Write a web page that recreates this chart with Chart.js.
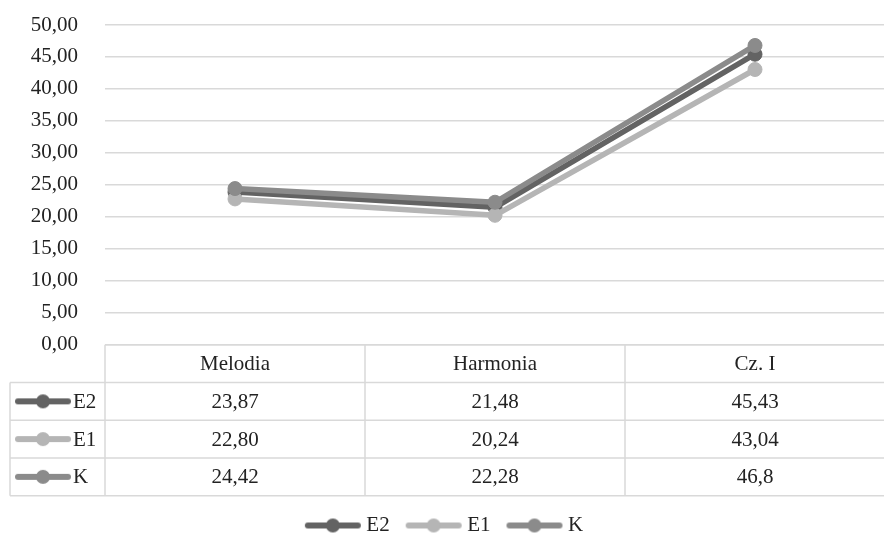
<!DOCTYPE html>
<html>
<head>
<meta charset="utf-8">
<script src="https://cdn.jsdelivr.net/npm/chart.js@4.4.1/dist/chart.umd.min.js"></script>
<style>
  html, body { margin: 0; padding: 0; overflow: hidden; background: #ffffff; }
  #wrap { position: relative; width: 893px; height: 538px; }
</style>
</head>
<body>
<div id="wrap"><canvas id="chart"></canvas></div>
<script>
// Categories, series and tick range
const categories = ['Melodia', 'Harmonia', 'Cz. I'];
const seriesNames = ['E2', 'E1', 'K'];
const e2Labels = ['23,87', '21,48', '45,43'];
const e1Labels = ['22,80', '20,24', '43,04'];
const kLabels  = ['24,42', '22,28', '46,8'];
const yMin = 0;
const yMax = 50;
const yStep = 5;

// Values plotted are parsed from the same strings shown in the data table
const toNumber = s => parseFloat(s.replace(',', '.'));
const e2Values = e2Labels.map(toNumber);
const e1Values = e1Labels.map(toNumber);
const kValues  = kLabels.map(toNumber);

const seriesLabels = [e2Labels, e1Labels, kLabels];
const seriesValues = [e2Values, e1Values, kValues];
const seriesColors = ['#636363', '#b5b5b5', '#8b8b8b'];

const FONT = "'Liberation Serif', 'Times New Roman', serif";
const FONT_SIZE = 21;
const TEXT_COLOR = '#222222';
const RULE_COLOR = '#d9d9d9';
const ROW_H = 37.75;
const KEY_COL_LEFT = 10;

// Legend key: a short line with a round marker in its middle
function makeKey(color) {
  const c = document.createElement('canvas');
  c.width = 58; c.height = 16;
  const g = c.getContext('2d');
  g.strokeStyle = color; g.lineWidth = 6; g.lineCap = 'round';
  g.beginPath(); g.moveTo(4, 8); g.lineTo(54, 8); g.stroke();
  g.fillStyle = color;
  g.beginPath(); g.arc(29, 8, 7, 0, Math.PI * 2); g.fill();
  return c;
}
const keys = seriesColors.map(makeKey);

// Data table drawn under the plot, aligned to the category scale
const dataTable = {
  id: 'dataTable',
  afterDraw(chart) {
    const { ctx, chartArea, scales: { x } } = chart;
    const colW = x.getPixelForValue(1) - x.getPixelForValue(0);
    const left = chartArea.left;
    const right = x.getPixelForValue(categories.length - 1) + colW / 2;
    const top = chartArea.bottom;
    const rows = [];
    for (let r = 0; r <= seriesNames.length + 1; r++) rows.push(top + r * ROW_H);
    const bottom = rows[rows.length - 1];

    ctx.save();
    ctx.strokeStyle = RULE_COLOR;
    ctx.lineWidth = 1.5;
    const line = (x1, y1, x2, y2) => { ctx.beginPath(); ctx.moveTo(x1, y1); ctx.lineTo(x2, y2); ctx.stroke(); };
    line(left, top, right, top);
    for (let r = 1; r < rows.length; r++) line(KEY_COL_LEFT, rows[r], right, rows[r]);
    line(left, top, left, bottom);
    line(KEY_COL_LEFT, rows[1], KEY_COL_LEFT, bottom);
    categories.forEach((c, i) => {
      const xr = x.getPixelForValue(i) + colW / 2;
      line(xr, top, xr, bottom);
    });

    ctx.fillStyle = TEXT_COLOR;
    ctx.font = FONT_SIZE + 'px ' + FONT;
    ctx.textBaseline = 'middle';
    ctx.textAlign = 'center';
    categories.forEach((c, i) => {
      ctx.fillText(c, x.getPixelForValue(i), (rows[0] + rows[1]) / 2 + 1);
    });
    seriesNames.forEach((name, s) => {
      const cy = (rows[s + 1] + rows[s + 2]) / 2;
      ctx.textAlign = 'center';
      seriesLabels[s].forEach((lbl, i) => {
        ctx.fillText(lbl, x.getPixelForValue(i), cy + 1);
      });
      ctx.drawImage(keys[s], 14, cy - 8);
      ctx.textAlign = 'left';
      ctx.fillText(name, 73, cy + 1);
    });
    ctx.restore();
  }
};

const datasets = seriesNames.map((name, s) => ({
  label: name,
  data: seriesValues[s],
  borderColor: seriesColors[s],
  backgroundColor: seriesColors[s],
  pointBackgroundColor: seriesColors[s],
  pointBorderColor: seriesColors[s],
  borderWidth: 5.5,
  pointRadius: 7,
  pointBorderWidth: 1,
  pointHoverRadius: 7,
  tension: 0,
  borderCapStyle: 'round',
  borderJoinStyle: 'round',
  order: seriesNames.length - 1 - s
}));

new Chart(document.getElementById('chart'), {
  type: 'line',
  data: { labels: categories, datasets },
  options: {
    responsive: true,
    maintainAspectRatio: false,
    animation: false,
    layout: { padding: { top: 25, left: 0, right: 0, bottom: 0 } },
    scales: {
      x: {
        type: 'category',
        offset: true,
        grid: { display: false },
        border: { display: false },
        ticks: { display: false },
        afterFit: s => { s.height = 149.3; }
      },
      y: {
        min: yMin,
        max: yMax,
        border: { display: false },
        grid: { color: RULE_COLOR, lineWidth: 1.5, drawTicks: true, tickLength: 27, tickColor: 'rgba(0,0,0,0)' },
        ticks: {
          stepSize: yStep,
          padding: 0,
          color: TEXT_COLOR,
          font: { family: FONT, size: FONT_SIZE },
          callback: v => v.toFixed(2).replace('.', ',')
        },
        afterFit: s => { s.width = 105; }
      }
    },
    plugins: {
      tooltip: { enabled: false },
      legend: {
        position: 'bottom',
        maxHeight: 44,
        labels: {
          usePointStyle: true,
          pointStyleWidth: 46,
          padding: 21,
          color: TEXT_COLOR,
          font: { family: FONT, size: FONT_SIZE },
          generateLabels: chart => chart.data.datasets.map((ds, i) => ({
            text: ds.label,
            pointStyle: keys[i],
            fillStyle: ds.borderColor,
            strokeStyle: ds.borderColor,
            fontColor: TEXT_COLOR,
            lineWidth: 0,
            hidden: false,
            datasetIndex: i
          }))
        }
      }
    }
  },
  plugins: [dataTable]
});
</script>
</body>
</html>
